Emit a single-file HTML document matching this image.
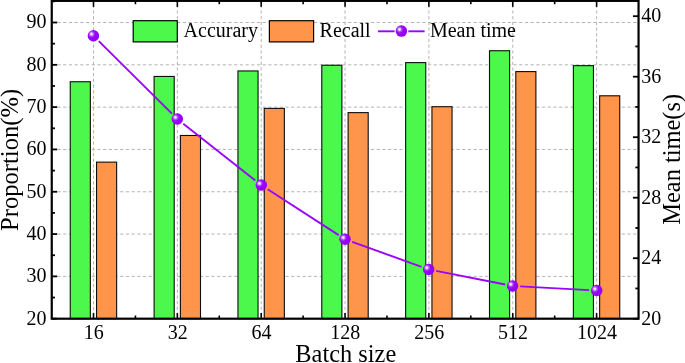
<!DOCTYPE html>
<html><head><meta charset="utf-8"><title>Batch size chart</title>
<style>
html,body{margin:0;padding:0;background:#fff;}
svg{display:block;}
text{font-family:"Liberation Serif","Times New Roman",serif;fill:#000;}
.tk{font-size:20px;}
.ti{font-size:24.4px;}
</style></head><body>
<svg width="685" height="363" viewBox="0 0 685 363">
<defs><radialGradient id="bg" cx="0.36" cy="0.37" r="0.62" fx="0.33" fy="0.35"><stop offset="0" stop-color="#ffffff"/><stop offset="0.12" stop-color="#f0d8ff"/><stop offset="0.3" stop-color="#b455fc"/><stop offset="0.5" stop-color="#9904fa"/><stop offset="1" stop-color="#9500f8"/></radialGradient></defs>
<rect x="0" y="0" width="685" height="363" fill="#fff"/>
<g stroke="#ababab" stroke-width="0.9" stroke-dasharray="3.2 2.5" fill="none">
<line x1="51.75" y1="276.39" x2="638.55" y2="276.39"/>
<line x1="51.75" y1="234.07" x2="638.55" y2="234.07"/>
<line x1="51.75" y1="191.76" x2="638.55" y2="191.76"/>
<line x1="51.75" y1="149.44" x2="638.55" y2="149.44"/>
<line x1="51.75" y1="107.13" x2="638.55" y2="107.13"/>
<line x1="51.75" y1="64.82" x2="638.55" y2="64.82"/>
<line x1="51.75" y1="22.50" x2="638.55" y2="22.50"/>
<line x1="93.50" y1="-1" x2="93.50" y2="318.7"/>
<line x1="177.35" y1="-1" x2="177.35" y2="318.7"/>
<line x1="261.20" y1="-1" x2="261.20" y2="318.7"/>
<line x1="345.05" y1="-1" x2="345.05" y2="318.7"/>
<line x1="428.90" y1="-1" x2="428.90" y2="318.7"/>
<line x1="512.75" y1="-1" x2="512.75" y2="318.7"/>
<line x1="596.60" y1="-1" x2="596.60" y2="318.7"/>
</g>
<g stroke="#0c0c0c" stroke-width="1.1">
<rect x="70.25" y="81.74" width="20.1" height="236.96" fill="#4cf84c"/>
<rect x="96.55" y="162.14" width="20.1" height="156.56" fill="#ff954a"/>
<rect x="154.10" y="76.45" width="20.1" height="242.25" fill="#4cf84c"/>
<rect x="180.40" y="135.48" width="20.1" height="183.22" fill="#ff954a"/>
<rect x="237.95" y="70.95" width="20.1" height="247.75" fill="#4cf84c"/>
<rect x="264.25" y="108.40" width="20.1" height="210.30" fill="#ff954a"/>
<rect x="321.80" y="65.24" width="20.1" height="253.46" fill="#4cf84c"/>
<rect x="348.10" y="112.63" width="20.1" height="206.07" fill="#ff954a"/>
<rect x="405.65" y="62.62" width="20.1" height="256.08" fill="#4cf84c"/>
<rect x="431.95" y="106.71" width="20.1" height="211.99" fill="#ff954a"/>
<rect x="489.50" y="50.73" width="20.1" height="267.97" fill="#4cf84c"/>
<rect x="515.80" y="71.59" width="20.1" height="247.11" fill="#ff954a"/>
<rect x="573.35" y="65.66" width="20.1" height="253.04" fill="#4cf84c"/>
<rect x="599.65" y="95.79" width="20.1" height="222.91" fill="#ff954a"/>
</g>
<g stroke="#9904fa" stroke-width="1.9" fill="none">
<line x1="98.79" y1="41.05" x2="171.91" y2="113.65"/>
<line x1="183.27" y1="123.70" x2="255.33" y2="180.40"/>
<line x1="267.68" y1="189.23" x2="338.67" y2="235.12"/>
<line x1="352.20" y1="241.83" x2="421.55" y2="266.82"/>
<line x1="436.16" y1="270.87" x2="505.14" y2="284.48"/>
<line x1="520.19" y1="286.37" x2="589.11" y2="290.13"/>
</g>
<circle cx="93.4" cy="35.7" r="5.75" fill="url(#bg)"/>
<circle cx="177.3" cy="119.0" r="5.75" fill="url(#bg)"/>
<circle cx="261.3" cy="185.1" r="5.75" fill="url(#bg)"/>
<circle cx="345.05" cy="239.25" r="5.75" fill="url(#bg)"/>
<circle cx="428.7" cy="269.4" r="5.75" fill="url(#bg)"/>
<circle cx="512.6" cy="285.95" r="5.75" fill="url(#bg)"/>
<circle cx="596.7" cy="290.55" r="5.75" fill="url(#bg)"/>
<g stroke="#000" fill="none">
<rect x="51.75" y="0.85" width="586.80" height="317.85" stroke-width="2.2"/>
<line x1="51.75" y1="318.70" x2="57.15" y2="318.70" stroke-width="1.8"/>
<line x1="51.75" y1="297.54" x2="54.95" y2="297.54" stroke-width="1.8"/>
<line x1="51.75" y1="276.39" x2="57.15" y2="276.39" stroke-width="1.8"/>
<line x1="51.75" y1="255.23" x2="54.95" y2="255.23" stroke-width="1.8"/>
<line x1="51.75" y1="234.07" x2="57.15" y2="234.07" stroke-width="1.8"/>
<line x1="51.75" y1="212.91" x2="54.95" y2="212.91" stroke-width="1.8"/>
<line x1="51.75" y1="191.76" x2="57.15" y2="191.76" stroke-width="1.8"/>
<line x1="51.75" y1="170.60" x2="54.95" y2="170.60" stroke-width="1.8"/>
<line x1="51.75" y1="149.44" x2="57.15" y2="149.44" stroke-width="1.8"/>
<line x1="51.75" y1="128.29" x2="54.95" y2="128.29" stroke-width="1.8"/>
<line x1="51.75" y1="107.13" x2="57.15" y2="107.13" stroke-width="1.8"/>
<line x1="51.75" y1="85.97" x2="54.95" y2="85.97" stroke-width="1.8"/>
<line x1="51.75" y1="64.82" x2="57.15" y2="64.82" stroke-width="1.8"/>
<line x1="51.75" y1="43.66" x2="54.95" y2="43.66" stroke-width="1.8"/>
<line x1="51.75" y1="22.50" x2="57.15" y2="22.50" stroke-width="1.8"/>
<line x1="51.75" y1="1.35" x2="54.95" y2="1.35" stroke-width="1.8"/>
<line x1="638.55" y1="318.70" x2="632.9499999999999" y2="318.70" stroke-width="1.8"/>
<line x1="638.55" y1="288.45" x2="635.3499999999999" y2="288.45" stroke-width="1.8"/>
<line x1="638.55" y1="258.20" x2="632.9499999999999" y2="258.20" stroke-width="1.8"/>
<line x1="638.55" y1="227.95" x2="635.3499999999999" y2="227.95" stroke-width="1.8"/>
<line x1="638.55" y1="197.70" x2="632.9499999999999" y2="197.70" stroke-width="1.8"/>
<line x1="638.55" y1="167.45" x2="635.3499999999999" y2="167.45" stroke-width="1.8"/>
<line x1="638.55" y1="137.20" x2="632.9499999999999" y2="137.20" stroke-width="1.8"/>
<line x1="638.55" y1="106.95" x2="635.3499999999999" y2="106.95" stroke-width="1.8"/>
<line x1="638.55" y1="76.70" x2="632.9499999999999" y2="76.70" stroke-width="1.8"/>
<line x1="638.55" y1="46.45" x2="635.3499999999999" y2="46.45" stroke-width="1.8"/>
<line x1="638.55" y1="16.20" x2="632.9499999999999" y2="16.20" stroke-width="1.8"/>
<line x1="93.50" y1="318.7" x2="93.50" y2="313.09999999999997" stroke-width="1.6"/>
<line x1="93.50" y1="0.85" x2="93.50" y2="6.85" stroke-width="1.6"/>
<line x1="135.43" y1="318.7" x2="135.43" y2="315.5" stroke-width="1.6"/>
<line x1="135.43" y1="0.85" x2="135.43" y2="4.25" stroke-width="1.6"/>
<line x1="177.35" y1="318.7" x2="177.35" y2="313.09999999999997" stroke-width="1.6"/>
<line x1="177.35" y1="0.85" x2="177.35" y2="6.85" stroke-width="1.6"/>
<line x1="219.27" y1="318.7" x2="219.27" y2="315.5" stroke-width="1.6"/>
<line x1="219.27" y1="0.85" x2="219.27" y2="4.25" stroke-width="1.6"/>
<line x1="261.20" y1="318.7" x2="261.20" y2="313.09999999999997" stroke-width="1.6"/>
<line x1="261.20" y1="0.85" x2="261.20" y2="6.85" stroke-width="1.6"/>
<line x1="303.12" y1="318.7" x2="303.12" y2="315.5" stroke-width="1.6"/>
<line x1="303.12" y1="0.85" x2="303.12" y2="4.25" stroke-width="1.6"/>
<line x1="345.05" y1="318.7" x2="345.05" y2="313.09999999999997" stroke-width="1.6"/>
<line x1="345.05" y1="0.85" x2="345.05" y2="6.85" stroke-width="1.6"/>
<line x1="386.97" y1="318.7" x2="386.97" y2="315.5" stroke-width="1.6"/>
<line x1="386.97" y1="0.85" x2="386.97" y2="4.25" stroke-width="1.6"/>
<line x1="428.90" y1="318.7" x2="428.90" y2="313.09999999999997" stroke-width="1.6"/>
<line x1="428.90" y1="0.85" x2="428.90" y2="6.85" stroke-width="1.6"/>
<line x1="470.82" y1="318.7" x2="470.82" y2="315.5" stroke-width="1.6"/>
<line x1="470.82" y1="0.85" x2="470.82" y2="4.25" stroke-width="1.6"/>
<line x1="512.75" y1="318.7" x2="512.75" y2="313.09999999999997" stroke-width="1.6"/>
<line x1="512.75" y1="0.85" x2="512.75" y2="6.85" stroke-width="1.6"/>
<line x1="554.67" y1="318.7" x2="554.67" y2="315.5" stroke-width="1.6"/>
<line x1="554.67" y1="0.85" x2="554.67" y2="4.25" stroke-width="1.6"/>
<line x1="596.60" y1="318.7" x2="596.60" y2="313.09999999999997" stroke-width="1.6"/>
<line x1="596.60" y1="0.85" x2="596.60" y2="6.85" stroke-width="1.6"/>
</g>
<g class="tk">
<text x="46.6" y="324.50" text-anchor="end">20</text>
<text x="46.6" y="282.19" text-anchor="end">30</text>
<text x="46.6" y="239.87" text-anchor="end">40</text>
<text x="46.6" y="197.56" text-anchor="end">50</text>
<text x="46.6" y="155.24" text-anchor="end">60</text>
<text x="46.6" y="112.93" text-anchor="end">70</text>
<text x="46.6" y="70.62" text-anchor="end">80</text>
<text x="46.6" y="28.30" text-anchor="end">90</text>
<text x="641.2" y="324.60">20</text>
<text x="641.2" y="264.10">24</text>
<text x="641.2" y="203.60">28</text>
<text x="641.2" y="143.10">32</text>
<text x="641.2" y="82.60">36</text>
<text x="641.2" y="22.10">40</text>
<text x="93.80" y="339.0" text-anchor="middle">16</text>
<text x="177.65" y="339.0" text-anchor="middle">32</text>
<text x="261.50" y="339.0" text-anchor="middle">64</text>
<text x="345.35" y="339.0" text-anchor="middle">128</text>
<text x="429.20" y="339.0" text-anchor="middle">256</text>
<text x="513.05" y="339.0" text-anchor="middle">512</text>
<text x="596.90" y="339.0" text-anchor="middle">1024</text>
</g>
<text class="ti" x="345.8" y="362.2" text-anchor="middle">Batch size</text>
<text class="ti" style="font-size:24.6px" transform="translate(17.7 159.9) rotate(-90)" text-anchor="middle">Proportion(%)</text>
<text class="ti" transform="translate(679.7 159.3) rotate(-90)" text-anchor="middle">Mean time(s)</text>
<rect x="133.2" y="20.7" width="44.1" height="21.2" fill="#4cf84c" stroke="#000" stroke-width="1.2"/>
<text class="tk" x="183.6" y="37.3">Accurary</text>
<rect x="269.4" y="20.7" width="44.2" height="21.2" fill="#ff954a" stroke="#000" stroke-width="1.2"/>
<text class="tk" x="319.6" y="37.3">Recall</text>
<line x1="378" y1="31.3" x2="394.6" y2="31.3" stroke="#9904fa" stroke-width="1.9"/>
<line x1="408.3" y1="31.3" x2="424.6" y2="31.3" stroke="#9904fa" stroke-width="1.9"/>
<circle cx="401.4" cy="31.1" r="5.75" fill="url(#bg)"/>
<text class="tk" x="429.9" y="37.4">Mean time</text>
</svg>
</body></html>
